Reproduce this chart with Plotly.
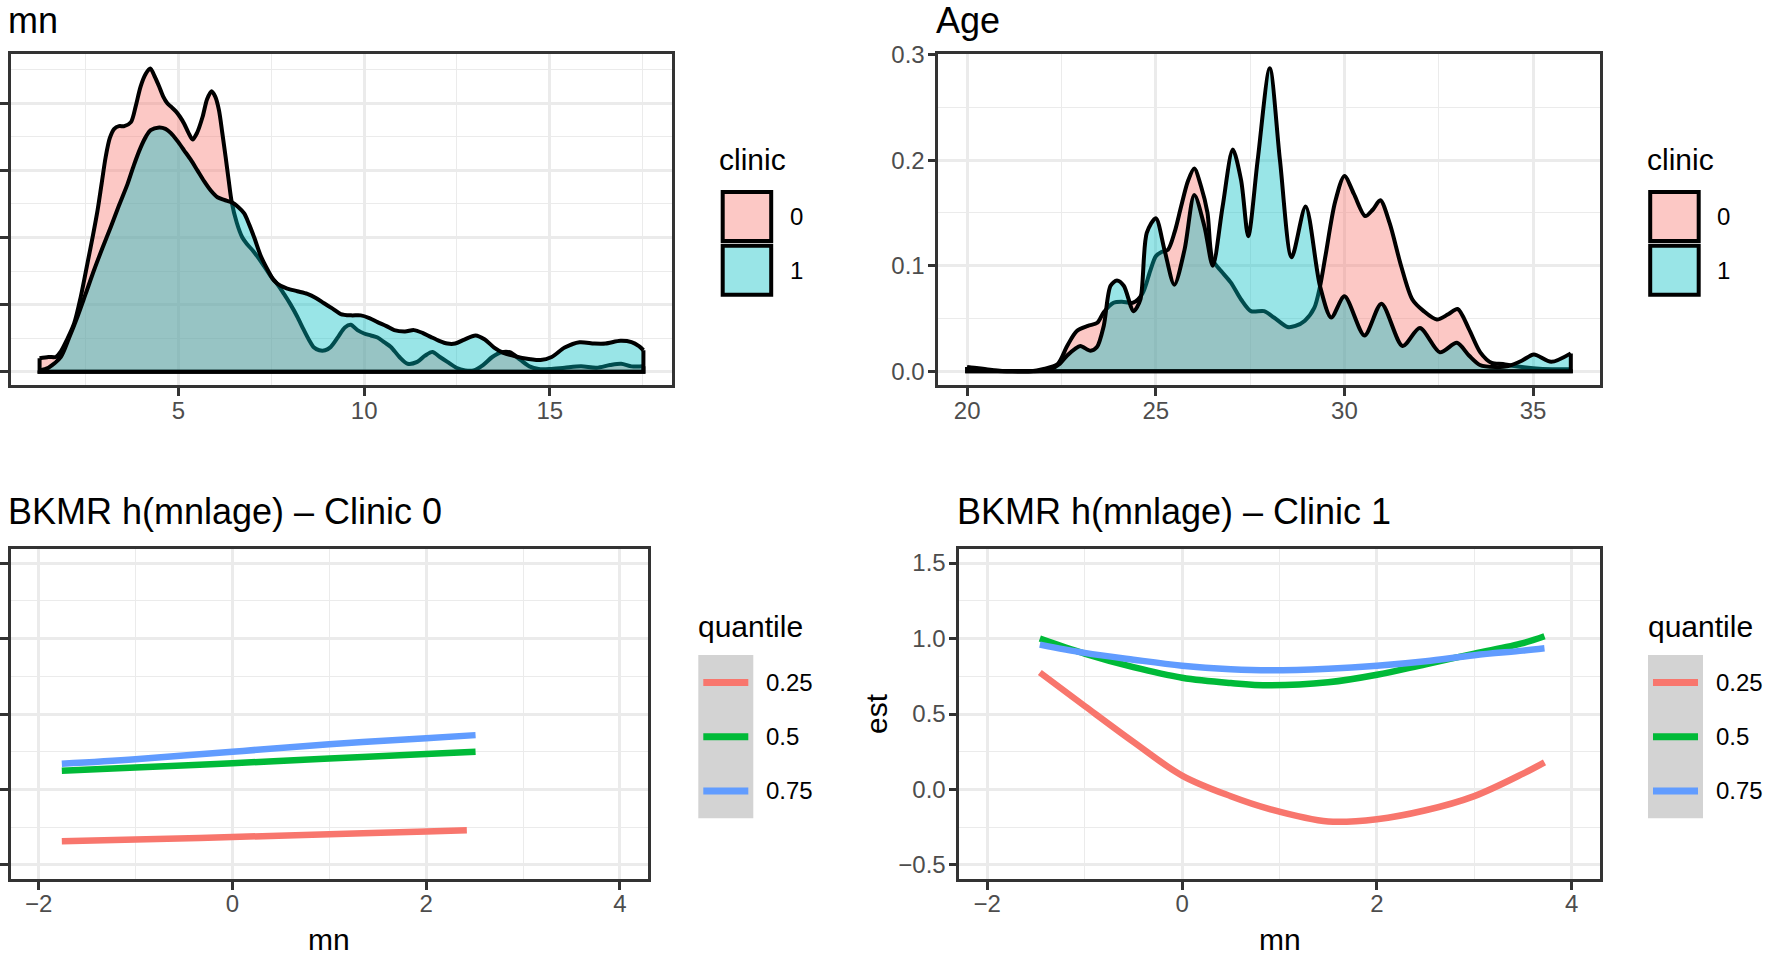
import plotly.graph_objects as go

W, H = 1775, 955
FONT = "Liberation Sans, Arial, Helvetica, sans-serif"
INK = "#333333"
GRID = "#EBEBEB"
TICK_TXT = "#4D4D4D"

# ---- groups and colours ----
clinic_groups = ["0", "1"]
clinic_fill = ["rgba(248,118,109,0.4)", "rgba(0,191,196,0.4)"]
quantile_levels = ["0.25", "0.5", "0.75"]
quantile_colors = ["#F8766D", "#00BA38", "#619CFF"]

# ---- density of mn by clinic ----
mn_x_c0 = [1.26, 1.50, 1.70, 1.83, 2.00, 2.19, 2.37, 2.55, 2.70, 2.82, 2.93, 3.04, 3.15, 3.27,
           3.40, 3.54, 3.72, 3.85, 3.98, 4.12, 4.24, 4.36, 4.48, 4.59, 4.70, 4.82, 4.93, 5.04,
           5.15, 5.27, 5.38, 5.50, 5.65, 5.77, 5.89, 5.99, 6.09, 6.18, 6.27, 6.35, 6.43, 6.57,
           6.72, 6.85, 7.01, 7.25, 7.49, 7.67, 7.84, 8.02, 8.20, 8.36, 8.52, 8.65, 8.79, 8.95,
           9.10, 9.30, 9.48, 9.64, 9.82, 10.00, 10.18, 10.36, 10.54, 10.72, 10.95, 11.17, 11.43,
           11.64, 11.84, 12.04, 12.24, 12.48, 12.72, 12.95, 13.20, 13.45, 13.70, 13.92, 14.20,
           14.45, 14.70, 15.00, 15.40, 15.84, 16.26, 16.62, 16.92, 17.20, 17.52]
mn_d_c0 = [0.010, 0.011, 0.011, 0.015, 0.024, 0.036, 0.056, 0.081, 0.102, 0.120, 0.140, 0.160,
           0.174, 0.181, 0.183, 0.183, 0.186, 0.198, 0.2125, 0.222, 0.226, 0.220, 0.2125, 0.205,
           0.200, 0.197, 0.194, 0.190, 0.185, 0.178, 0.173, 0.178, 0.190, 0.203, 0.209, 0.205,
           0.195, 0.178, 0.160, 0.143, 0.127, 0.111, 0.100, 0.095, 0.090, 0.081, 0.071, 0.065,
           0.058, 0.050, 0.041, 0.032, 0.0235, 0.018, 0.016, 0.016, 0.0185, 0.026, 0.033, 0.035,
           0.031, 0.0285, 0.027, 0.0255, 0.022, 0.0185, 0.011, 0.006, 0.0073, 0.012, 0.0148,
           0.011, 0.0073, 0.003, 0.001, 0.001, 0.005, 0.011, 0.0145, 0.0145, 0.009, 0.004, 0.002,
           0.002, 0.003, 0.004, 0.003, 0.005, 0.006, 0.004, 0.004]

mn_x_c1 = [1.26, 1.50, 1.83, 2.05, 2.28, 2.50, 2.73, 2.95, 3.18, 3.40, 3.63, 3.80, 3.98, 4.12,
           4.25, 4.48, 4.65, 4.79, 4.97, 5.15, 5.33, 5.51, 5.69, 5.87, 6.05, 6.23, 6.45, 6.60,
           6.77, 6.90, 7.04, 7.22, 7.40, 7.57, 7.75, 7.93, 8.20, 8.47, 8.70, 8.92, 9.15, 9.37,
           9.65, 9.91, 10.14, 10.36, 10.60, 10.81, 11.10, 11.34, 11.57, 11.79, 12.02, 12.24,
           12.45, 12.70, 13.00, 13.25, 13.50, 13.75, 14.00, 14.30, 14.75, 15.05, 15.40, 15.80,
           16.20, 16.50, 16.90, 17.20, 17.40, 17.52]
mn_d_c1 = [0.001, 0.003, 0.011, 0.025, 0.041, 0.058, 0.076, 0.092, 0.108, 0.124, 0.140, 0.154,
           0.167, 0.175, 0.180, 0.182, 0.181, 0.178, 0.172, 0.165, 0.158, 0.150, 0.142, 0.135,
           0.130, 0.128, 0.126, 0.123, 0.118, 0.110, 0.100, 0.086, 0.076, 0.068, 0.064, 0.062,
           0.060, 0.058, 0.055, 0.051, 0.047, 0.043, 0.042, 0.042, 0.040, 0.037, 0.034, 0.031,
           0.030, 0.031, 0.029, 0.026, 0.023, 0.021, 0.021, 0.024, 0.027, 0.024, 0.018, 0.014,
           0.012, 0.010, 0.0087, 0.011, 0.018, 0.022, 0.021, 0.021, 0.023, 0.022, 0.019, 0.016]

# ---- density of Age by clinic ----
age_x_c0 = [20.0, 20.3, 20.7, 21.2, 21.7, 22.0, 22.4, 22.65, 22.9, 23.2, 23.45, 23.62, 23.88,
            24.1, 24.4, 24.65, 24.85, 25.0, 25.15, 25.32, 25.5, 25.67, 25.85, 26.02, 26.2,
            26.37, 26.5, 26.73, 26.99, 27.26, 27.52, 27.87, 28.13, 28.49, 28.7, 28.95, 29.2,
            29.35, 29.5, 29.75, 30.0, 30.25, 30.55, 30.75, 30.95, 31.2, 31.5, 31.8, 32.1,
            32.45, 32.75, 33.0, 33.3, 33.6, 33.9, 34.2, 34.5, 35.0, 35.5, 36.0]
age_d_c0 = [0.004, 0.003, 0.001, 0.0, 0.0, 0.002, 0.007, 0.024, 0.038, 0.043, 0.046, 0.056,
            0.065, 0.066, 0.065, 0.074, 0.095, 0.109, 0.113, 0.115, 0.132, 0.156, 0.180, 0.192,
            0.175, 0.150, 0.106, 0.095, 0.084, 0.068, 0.057, 0.057, 0.051, 0.042, 0.043, 0.048,
            0.060, 0.080, 0.110, 0.160, 0.185, 0.168, 0.147, 0.153, 0.162, 0.140, 0.100, 0.068,
            0.057, 0.049, 0.054, 0.059, 0.040, 0.018, 0.008, 0.007, 0.005, 0.003, 0.002, 0.002]

age_x_c1 = [20.0, 20.3, 20.7, 21.3, 22.0, 22.21, 22.45, 22.65, 22.85, 23.0, 23.27, 23.44, 23.62,
            23.8, 23.97, 24.15, 24.41, 24.59, 24.76, 25.0, 25.23, 25.49, 25.76, 26.02, 26.29,
            26.51, 26.77, 27.04, 27.26, 27.45, 27.7, 28.02, 28.29, 28.6, 28.97, 29.35, 29.65,
            30.0, 30.53, 30.98, 31.54, 32.0, 32.53, 32.98, 33.3, 33.59, 34.0, 34.34, 34.7,
            35.02, 35.48, 36.0]
age_d_c1 = [0.004, 0.002, 0.0005, 0.0, 0.0005, 0.002, 0.007, 0.015, 0.021, 0.024, 0.0195, 0.023,
            0.043, 0.081, 0.086, 0.081, 0.057, 0.068, 0.131, 0.145, 0.115, 0.082, 0.115, 0.167,
            0.137, 0.100, 0.156, 0.210, 0.181, 0.128, 0.200, 0.287, 0.200, 0.108, 0.156, 0.081,
            0.051, 0.071, 0.034, 0.064, 0.024, 0.041, 0.018, 0.027, 0.015, 0.006, 0.004, 0.005,
            0.010, 0.016, 0.009, 0.017]

# ---- BKMR h(mn | age) estimates, clinic 0 ----
bk0_mn = {
    "0.25": [-1.76, -1.0, 0.0, 1.0, 2.0, 2.42],
    "0.5": [-1.76, -1.0, 0.0, 1.0, 2.0, 2.51],
    "0.75": [-1.76, -1.0, 0.0, 1.0, 2.0, 2.51],
}
bk0_est = {
    "0.25": [-0.343, -0.332, -0.315, -0.297, -0.279, -0.270],
    "0.5": [0.124, 0.145, 0.174, 0.205, 0.235, 0.250],
    "0.75": [0.170, 0.200, 0.250, 0.300, 0.340, 0.360],
}

# ---- BKMR h(mn | age) estimates, clinic 1 ----
bk1_mn = [-1.46, -1.0, -0.5, 0.0, 0.5, 0.9, 1.5, 2.0, 2.5, 3.0, 3.5, 3.72]
bk1_est = {
    "0.25": [0.775, 0.553, 0.315, 0.092, -0.045, -0.13, -0.212, -0.197, -0.138, -0.044, 0.105, 0.18],
    "0.5": [1.0, 0.90, 0.81, 0.74, 0.705, 0.69, 0.71, 0.76, 0.83, 0.90, 0.97, 1.015],
    "0.75": [0.96, 0.905, 0.86, 0.82, 0.797, 0.79, 0.80, 0.82, 0.85, 0.89, 0.92, 0.935],
}

# ---- axis ticks ----
mn_ticks, mn_minor = [5, 10, 15], [2.5, 7.5, 12.5, 17.5]
mn_dticks = [0.0, 0.05, 0.10, 0.15, 0.20]
mn_dminor = [0.025, 0.075, 0.125, 0.175, 0.225]
age_ticks, age_minor = [20, 25, 30, 35], [22.5, 27.5, 32.5]
age_dticks, age_dlabels = [0.0, 0.1, 0.2, 0.3], ["0.0", "0.1", "0.2", "0.3"]
age_dminor = [0.05, 0.15, 0.25]
bk_xticks, bk_xlabels, bk_xminor = [-2, 0, 2, 4], ["\u22122", "0", "2", "4"], [-1, 1, 3]
bk_yticks = [-0.5, 0.0, 0.5, 1.0, 1.5]
bk_ylabels = ["\u22120.5", "0.0", "0.5", "1.0", "1.5"]
bk_yminor = [-0.25, 0.25, 0.75, 1.25]

BORDER = 2.7
INSET = BORDER / 2  # panel border straddles the panel edge


def fx(p):
    return p / W


def fy(p):
    return 1 - p / H


def axis(span_px, rng, vals, labels, minor_vals, anchor, horizontal, show_labels=True):
    lo, hi = span_px
    length = hi - lo
    step = (rng[1] - rng[0]) / length
    inner_rng = [rng[0] + INSET * step, rng[1] - INSET * step]
    if horizontal:
        dom = [fx(lo + INSET), fx(hi - INSET)]
    else:
        dom = [fy(hi - INSET), fy(lo + INSET)]
    return dict(
        domain=dom, range=inner_rng, anchor=anchor, fixedrange=True, automargin=False,
        tickmode="array", tickvals=vals, ticktext=labels, showticklabels=show_labels,
        ticks="outside", ticklen=8, tickwidth=2.5, tickcolor=INK,
        ticklabelstandoff=-6 if horizontal else -2,
        tickfont=dict(family=FONT, size=24, color=TICK_TXT),
        showline=True, linecolor=INK, linewidth=BORDER, mirror=True,
        showgrid=True, gridcolor=GRID, gridwidth=2.7, zeroline=False,
        minor=dict(tickmode="array", tickvals=minor_vals, showgrid=True,
                   gridcolor=GRID, gridwidth=1.4, ticks=""),
    )


# panel boxes in pixels: (left, right), (top, bottom)
box_tl = ((9.5, 673.5), (53, 386.5))
box_tr = ((937, 1601), (53, 386.5))
box_bl = ((9.5, 649), (548, 880))
box_br = ((958, 1601), (548, 880))

fig = go.Figure()


def add_density(xs, ys, fill, xa, ya):
    fig.add_trace(go.Scatter(
        x=xs, y=ys, xaxis=xa, yaxis=ya, mode="lines", fill="tozeroy", fillcolor=fill,
        line=dict(color="black", width=4, shape="spline", smoothing=0.8),
        hoverinfo="skip", showlegend=False))
    fig.add_trace(go.Scatter(
        x=[xs[-1], xs[-1], xs[0], xs[0]], y=[ys[-1], 0, 0, ys[0]], xaxis=xa, yaxis=ya,
        mode="lines", line=dict(color="black", width=4), hoverinfo="skip", showlegend=False))


add_density(mn_x_c0, mn_d_c0, clinic_fill[0], "x", "y")
add_density(mn_x_c1, mn_d_c1, clinic_fill[1], "x", "y")
add_density(age_x_c0, age_d_c0, clinic_fill[0], "x2", "y2")
add_density(age_x_c1, age_d_c1, clinic_fill[1], "x2", "y2")

for q, col in zip(quantile_levels, quantile_colors):
    fig.add_trace(go.Scatter(
        x=bk0_mn[q], y=bk0_est[q], xaxis="x3", yaxis="y3", mode="lines",
        line=dict(color=col, width=6.5, shape="spline"), name=q, showlegend=False))
for q, col in zip(quantile_levels, quantile_colors):
    fig.add_trace(go.Scatter(
        x=bk1_mn, y=bk1_est[q], xaxis="x4", yaxis="y4", mode="lines",
        line=dict(color=col, width=6.5, shape="spline"), name=q, showlegend=False))

shapes = []
annotations = []


def text(x, y, s, size, color="black", xanchor="left", angle=0):
    annotations.append(dict(
        x=fx(x), y=fy(y), xref="paper", yref="paper", text=s, showarrow=False,
        xanchor=xanchor, yanchor="middle", textangle=angle, borderpad=0,
        font=dict(family=FONT, size=size, color=color)))


# titles
text(7, 21, "mn", 36)
text(935, 21, "Age", 36)
text(7, 511, "BKMR h(mnlage) \u2013 Clinic 0", 36)
text(956, 511, "BKMR h(mnlage) \u2013 Clinic 1", 36)

# axis titles of the BKMR panels
text(329.3, 939, "mn", 30, xanchor="center")
text(1279.5, 939, "mn", 30, xanchor="center")
text(876, 714, "est", 30, xanchor="center", angle=-90)


def clinic_legend(x0):
    text(x0 - 2.5, 160, "clinic", 30)
    for i, (g, fill) in enumerate(zip(clinic_groups, clinic_fill)):
        top = 192 + i * 53.7
        shapes.append(dict(type="rect", xref="paper", yref="paper",
                           x0=fx(x0 + 2), x1=fx(x0 + 50.5), y0=fy(top + 49), y1=fy(top),
                           fillcolor=fill, line=dict(color="black", width=4)))
        text(x0 + 68, top + 24.5, g, 24)


def quantile_legend(x0):
    text(x0 - 1, 626, "quantile", 30)
    shapes.append(dict(type="rect", xref="paper", yref="paper", layer="below",
                       x0=fx(x0), x1=fx(x0 + 55), y0=fy(818.3), y1=fy(655),
                       fillcolor="#D3D3D3", line=dict(width=0)))
    for i, (q, col) in enumerate(zip(quantile_levels, quantile_colors)):
        yc = 682.5 + i * 54.2
        shapes.append(dict(type="line", xref="paper", yref="paper",
                           x0=fx(x0 + 5), x1=fx(x0 + 50), y0=fy(yc), y1=fy(yc),
                           line=dict(color=col, width=7)))
        text(x0 + 67, yc, q, 24)


clinic_legend(720.7)
clinic_legend(1648.2)
quantile_legend(698.3)
quantile_legend(1648.0)

fig.update_layout(
    width=W, height=H, margin=dict(l=0, r=0, t=0, b=0),
    paper_bgcolor="white", plot_bgcolor="white", showlegend=False,
    font=dict(family=FONT),
    xaxis=axis(box_tl[0], [0.45, 18.33], mn_ticks, [str(v) for v in mn_ticks], mn_minor,
               "y", True),
    yaxis=axis(box_tl[1], [-0.011, 0.2375], mn_dticks, [str(v) for v in mn_dticks], mn_dminor,
               "x", False, show_labels=False),
    xaxis2=axis(box_tr[0], [19.2, 36.8], age_ticks, [str(v) for v in age_ticks], age_minor,
                "y2", True),
    yaxis2=axis(box_tr[1], [-0.01435, 0.3014], age_dticks, age_dlabels, age_dminor, "x2", False),
    xaxis3=axis(box_bl[0], [-2.3, 4.3], bk_xticks, bk_xlabels, bk_xminor, "y3", True),
    yaxis3=axis(box_bl[1], [-0.6, 1.6], bk_yticks, bk_ylabels, bk_yminor, "x3", False,
                show_labels=False),
    xaxis4=axis(box_br[0], [-2.3, 4.3], bk_xticks, bk_xlabels, bk_xminor, "y4", True),
    yaxis4=axis(box_br[1], [-0.6, 1.6], bk_yticks, bk_ylabels, bk_yminor, "x4", False),
    shapes=shapes, annotations=annotations,
)

fig.write_html("out.html")
